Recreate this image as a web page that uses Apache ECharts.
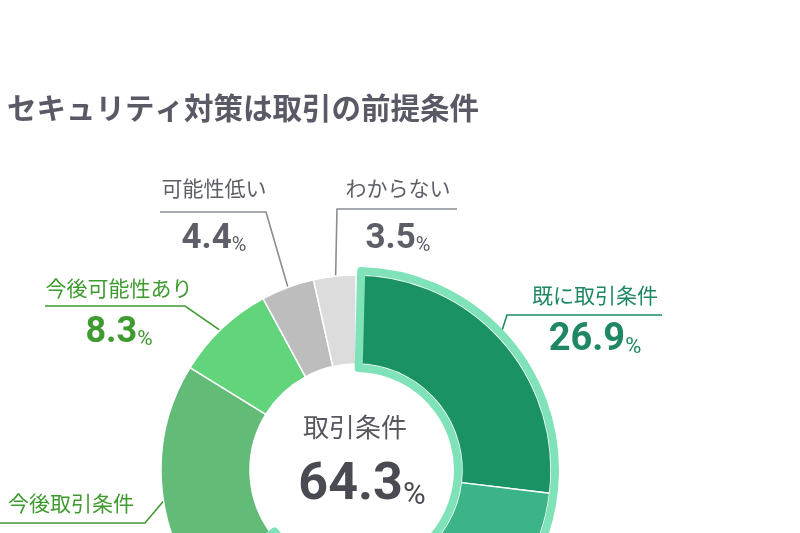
<!DOCTYPE html>
<html>
<head>
<meta charset="utf-8">
<script src="https://cdn.jsdelivr.net/npm/echarts@6/dist/echarts.min.js"></script>
<style>
  html, body { margin: 0; padding: 0; background: #fff; }
  #main { width: 800px; height: 533px; }
</style>
</head>
<body>
<div id="main"></div>
<script>
// data
var categories = ['既に取引条件', '', '今後取引条件', '今後可能性あり', '可能性低い', 'わからない'];
var shares = [26.9, 37.4, 19.5, 8.3, 4.4, 3.5];
var groupName = '取引条件';
var groupShare = 64.3;
var titleText = 'セキュリティ対策は取引の前提条件';

var colors = ['#1b9264', '#3bb588', '#63bb78', '#62d47b', '#bdbdbd', '#dcdcdc'];
var textColors = ['#1f8764', null, '#3f9b30', '#3f9b30', '#5d5f68', '#5d5f68'];
var lineColors = ['#1f8a66', null, '#3f9b30', '#3f9b30', '#8a8d96', '#8a8d96'];
var numSizes = [38, 0, 38, 36, 35, 35];

var cx = 356, cy = 470;
var numFont = "Roboto, 'Liberation Sans', sans-serif";
var jpFont = "'Noto Sans CJK JP', sans-serif";

// where each label sits: text centre x, name centre y, value baseline y, elbow, end of underline
var labelPos = {
  '既に取引条件': { x: 595, nameY: 295, baseY: 353, elbow: [507, 315], end: [662, 315], k: 0.97 },
  '今後取引条件': { x: 71, nameY: 503, baseY: 590, elbow: [145, 523], end: [0, 523], k: 0.9 },
  '今後可能性あり': { x: 119, nameY: 288, baseY: 345, elbow: [185, 306], end: [45, 306], k: 0.93 },
  '可能性低い': { x: 214, nameY: 188, baseY: 251, elbow: [266, 212], end: [160, 212], k: 0.98 },
  'わからない': { x: 398, nameY: 188, baseY: 251, elbow: [337, 209], end: [457, 209], k: 0.96 }
};

// line heights so that the small % shares the digits' baseline
function valueLine(F, f) { return Math.round(0.64 * F + 0.59 * f); }

var myChart = echarts.init(document.getElementById('main'), null, { renderer: 'canvas' });

var pieData = categories.map(function (name, i) {
  var lp = labelPos[name];
  if (!lp) {
    return { name: name, value: shares[i], itemStyle: { color: colors[i] }, label: { show: false }, labelLine: { show: false } };
  }
  var F = numSizes[i], f = Math.round(F * 0.58);
  var L = valueLine(F, f);
  var Ln = 2 * (lp.baseY - lp.nameY - L / 2 - 0.33 * F);
  lp.y = lp.nameY - Ln / 2;
  return {
    name: name,
    value: shares[i],
    itemStyle: { color: colors[i] },
    label: {
      show: true,
      rich: {
        n: { fontFamily: jpFont, fontSize: 21, lineHeight: Ln, color: textColors[i] },
        v: { fontFamily: numFont, fontWeight: 'bold', fontSize: F, lineHeight: L, color: textColors[i] },
        p: { fontFamily: numFont, fontSize: f, lineHeight: L, verticalAlign: 'bottom', color: textColors[i] }
      }
    },
    labelLine: { show: true, lineStyle: { color: lineColors[i], width: 1.6 } }
  };
});

var cF = 52, cf = 31, cL = valueLine(cF, cf);

var option = {
  animation: false,
  title: {
    text: titleText,
    left: 2,
    top: 88,
    textStyle: { fontFamily: jpFont, fontSize: 29.5, fontWeight: 'bold', color: '#5a5a67' }
  },
  series: [
    {
      type: 'pie',
      silent: true,
      center: [cx, cy],
      radius: [106, 195],
      startAngle: 90,
      clockwise: true,
      avoidLabelOverlap: false,
      itemStyle: { borderColor: '#ffffff', borderWidth: 1.5 },
      label: {
        position: 'outside',
        formatter: function (p) {
          return '{n|' + p.name + '}\n{v|' + p.value.toFixed(1) + '}{p|%}';
        }
      },
      labelLayout: function (params) {
        var lp = labelPos[categories[params.dataIndex]];
        if (!lp || !params.labelLinePoints) return {};
        var p0 = params.labelLinePoints[0];
        var a = [cx + (p0[0] - cx) * lp.k, cy + (p0[1] - cy) * lp.k];
        return {
          x: lp.x,
          y: lp.y,
          align: 'center',
          verticalAlign: 'top',
          labelLinePoints: [a, lp.elbow, lp.end]
        };
      },
      data: pieData,
      z: 2
    },
    {
      // light green frame round the 取引条件 group
      type: 'pie',
      silent: true,
      center: [cx, cy],
      radius: [102, 199],
      startAngle: 88.5,
      clockwise: true,
      label: { show: false },
      labelLine: { show: false },
      data: [
        { name: groupName, value: groupShare, itemStyle: { color: 'rgba(0,0,0,0)', borderColor: '#80e2b9', borderWidth: 8 } },
        { name: 'rest', value: 100 - groupShare, itemStyle: { color: 'rgba(0,0,0,0)', borderWidth: 0 } }
      ],
      z: 3
    }
  ],
  graphic: [
    {
      type: 'text',
      x: 355,
      y: 427,
      z: 10,
      style: { text: groupName, font: '26px ' + jpFont, fill: '#57575f', align: 'center', verticalAlign: 'middle' }
    },
    {
      type: 'text',
      x: 362,
      y: 503 - cL / 2 - 0.33 * cF,
      z: 10,
      style: {
        text: '{v|' + groupShare.toFixed(1) + '}{p|%}',
        align: 'center',
        verticalAlign: 'top',
        rich: {
          v: { fontFamily: numFont, fontWeight: 'bold', fontSize: cF, fill: '#4a4b52', lineHeight: cL },
          p: { fontFamily: numFont, fontSize: cf, fill: '#4a4b52', lineHeight: cL, verticalAlign: 'bottom' }
        }
      }
    }
  ]
};

myChart.setOption(option);
</script>
</body>
</html>
